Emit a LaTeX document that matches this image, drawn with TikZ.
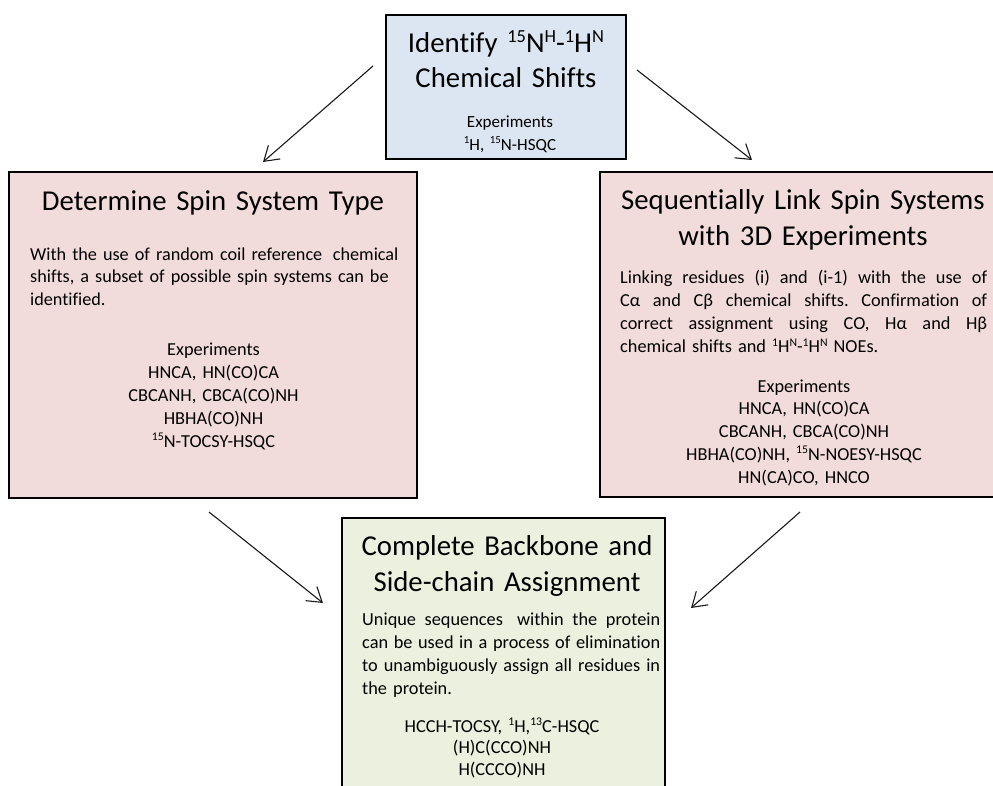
\documentclass[tikz,border=0pt]{standalone}
\usepackage{fontspec}
\setmainfont{Carlito}[Ligatures=CommonOff]
\usetikzlibrary{arrows.meta}
\frenchspacing

\definecolor{boxblue}{HTML}{DCE6F2}
\definecolor{boxpink}{HTML}{F2DCDB}
\definecolor{boxgreen}{HTML}{EBF1DE}

\newcommand\headsize{\fontsize{28.8}{35.5}\selectfont}
\newcommand\textsz{\fontsize{18.3}{23}\selectfont}
\newcommand\smalltextsz{\fontsize{17}{23}\selectfont}
% small raised index (isotope labels, H^N etc.)
\newcommand\upt[1]{\raisebox{0.36em}{\scalebox{0.64}{#1}}}
% one fully justified line of a given width
\newcommand\fullline[2]{\leavevmode\hbox to #1{\spaceskip=.22em plus 10em minus .05em\xspaceskip=\spaceskip #2}}

\begin{document}
\begin{tikzpicture}[x=1pt,y=-1pt,
  stage/.style={draw=black,line width=1.7pt,inner sep=0pt,outer sep=0pt},
  heading/.style={font=\headsize,inner sep=0pt,align=center,anchor=base},
  explist/.style={font=\textsz,inner sep=0pt,align=center,anchor=base},
  para/.style={font=\textsz,inner sep=0pt,align=left,anchor=base west},
  flowarrow/.style={-{Straight Barb[length=14pt,width=18pt,line width=1.1pt]},line width=1.1pt,draw=black!90}
]
\useasboundingbox (0,0) rectangle (993,785);
\clip (0,0) rectangle (993,785);

% stage boxes
\node[stage,fill=boxblue,minimum width=240pt,minimum height=144pt] (top) at (506,87) {};
\node[stage,fill=boxpink,minimum width=408pt,minimum height=326pt] (left) at (213,335) {};
\node[stage,fill=boxpink,minimum width=410pt,minimum height=325pt] (right) at (805,334.5) {};
\node[stage,fill=boxgreen,minimum width=323pt,minimum height=292pt] (bottom) at (503.5,664) {};

% identify
\node[heading,text width=240pt,font=\fontsize{28.8}{34.6}\selectfont] (topHead) at (506,52.7)
  {Identify \upt{15}N\upt{H}-\upt{1}H\upt{N}\\Chemical Shifts};
\node[explist,text width=200pt,font=\smalltextsz] (topExp) at (510,127)
  {Experiments\\\upt{1}H, \upt{15}N-HSQC};

% spin system type
\node[heading,text width=400pt] (leftHead) at (213,210) {Determine Spin System Type};
\node[para,text width=378pt,font=\fontsize{18.2}{22.6}\selectfont] (leftText) at (30,260)
  {With the use of random coil reference\hspace*{.25em} chemical\\
   shifts, a subset of possible spin systems can be\\
   identified.};
\node[explist,text width=380pt] (leftExp) at (213.5,355)
  {Experiments\\HNCA, HN(CO)CA\\CBCANH, CBCA(CO)NH\\HBHA(CO)NH\\\upt{15}N-TOCSY-HSQC};

% sequential linking
\node[heading,text width=400pt,font=\fontsize{28.8}{36.7}\selectfont] (rightHead) at (803,209)
  {Sequentially Link Spin Systems\\with 3D Experiments};
\node[para,text width=367pt,font=\fontsize{18.3}{23.3}\selectfont] (rightText) at (620,283)
  {\fullline{367pt}{Linking residues (i) and (i-1) with the use of}\\
   \fullline{367pt}{Cα and Cβ chemical shifts. Confirmation of}\\
   \fullline{367pt}{correct assignment using CO, Hα and Hβ}\\
   chemical shifts and \upt{1}H\upt{N}-\upt{1}H\upt{N} NOEs.};
\node[explist,text width=380pt,font=\fontsize{18.3}{22.8}\selectfont] (rightExp) at (804,392)
  {Experiments\\HNCA, HN(CO)CA\\CBCANH, CBCA(CO)NH\\HBHA(CO)NH, \upt{15}N-NOESY-HSQC\\HN(CA)CO, HNCO};

% complete assignment
\node[heading,text width=320pt,font=\fontsize{28.8}{35.3}\selectfont] (bottomHead) at (507,555.7)
  {Complete Backbone and\\Side-chain Assignment};
\node[para,text width=298pt,font=\fontsize{18.3}{23.3}\selectfont] (bottomText) at (362,625)
  {\fullline{298pt}{Unique sequences\hspace*{.3em} within the protein}\\
   \fullline{298pt}{can be used in a process of elimination}\\
   \fullline{298pt}{to unambiguously assign all residues in}\\
   the protein.};
\node[explist,text width=310pt,font=\fontsize{18.3}{21.5}\selectfont] (bottomExp) at (502,732)
  {HCCH-TOCSY, \upt{1}H,\upt{13}C-HSQC\\(H)C(CCO)NH\\H(CCCO)NH};

% arrows between stages
\coordinate (a1s) at (373,66);  \coordinate (a1e) at (263,162);
\coordinate (a2s) at (637,70);  \coordinate (a2e) at (752,160);
\coordinate (a3s) at (209,512); \coordinate (a3e) at (323,603);
\coordinate (a4s) at (800,512); \coordinate (a4e) at (691,608);
\draw[flowarrow] (a1s) -- (a1e);
\draw[flowarrow] (a2s) -- (a2e);
\draw[flowarrow] (a3s) -- (a3e);
\draw[flowarrow] (a4s) -- (a4e);
\end{tikzpicture}
\end{document}
